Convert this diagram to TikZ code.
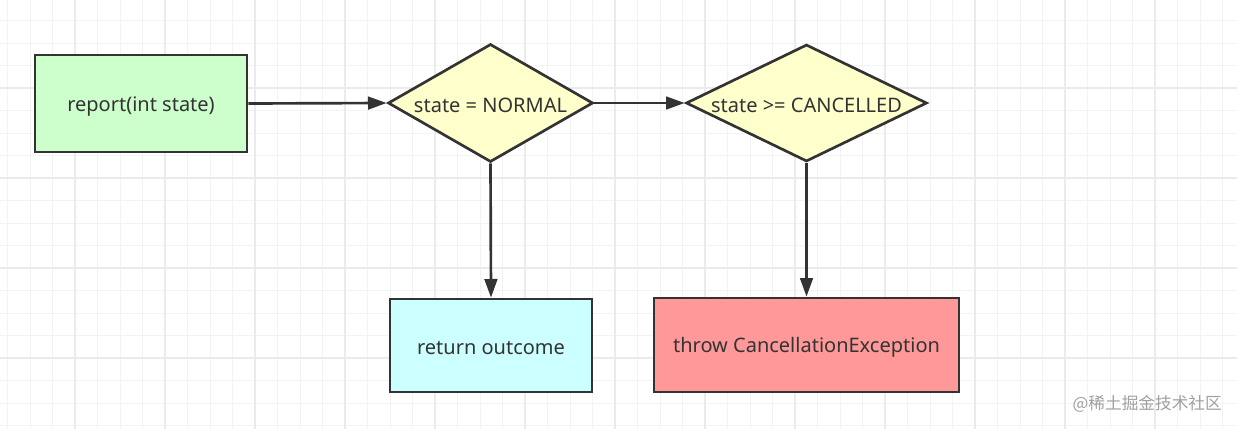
\documentclass[tikz,border=0pt]{standalone}
\usepackage{fontspec}
\setmainfont{Noto Sans}
\newfontfamily\cjk{Noto Sans CJK SC}
\usetikzlibrary{shapes.geometric,arrows.meta}
\definecolor{gridminor}{HTML}{F3F3F3}
\definecolor{gridmajor}{HTML}{EBEBEB}
\definecolor{edgecol}{HTML}{333333}
\definecolor{greenfill}{HTML}{CCFFCC}
\definecolor{yellowfill}{HTML}{FFFFCC}
\definecolor{cyanfill}{HTML}{CCFFFF}
\definecolor{redfill}{HTML}{FF9999}
\definecolor{wmark}{HTML}{A0A0A0}
\newcommand{\lowtext}[1]{\raisebox{-2pt}[\height][\depth]{#1}}
\tikzset{
  boxnode/.style={draw=edgecol, line width=2pt, inner sep=0pt, font=\fontsize{15}{17}\selectfont, text=edgecol},
  decision/.style={diamond, draw=edgecol, line width=2pt, inner sep=0pt, fill=yellowfill, font=\fontsize{15}{17}\selectfont, text=edgecol},
  flow/.style={draw=edgecol, line width=2pt, -{Triangle[length=14pt,width=9.5pt]}},
}
\begin{document}
\begin{tikzpicture}[x=0.75pt,y=-0.75pt]
\useasboundingbox (0,0) rectangle (1237,429);
\fill[white] (0,0) rectangle (1237,429);
% minor grid
\foreach \gx in {7.5,30,...,1237} \draw[gridminor, line width=0.75pt] (\gx,0) -- (\gx,429);
\foreach \gy in {20.5,43,...,429} \draw[gridminor, line width=0.75pt] (0,\gy) -- (1237,\gy);
% major grid
\foreach \gx in {75,165,...,1237} \draw[gridmajor, line width=0.9pt] (\gx,0) -- (\gx,429);
\foreach \gy in {88,178,...,429} \draw[gridmajor, line width=0.9pt] (0,\gy) -- (1237,\gy);

\node[boxnode, fill=greenfill, minimum width=212*0.75pt, minimum height=97*0.75pt] (report) at (141,103.5) {\lowtext{report(int state)}};
\node[decision, aspect=1.737, minimum width=205*0.75pt, minimum height=118*0.75pt] (normal) at (490.5,103) {\lowtext{state = NORMAL}};
\node[decision, aspect=2.06, minimum width=241*0.75pt, minimum height=117*0.75pt] (cancel) at (806.5,103) {\lowtext{state >= CANCELLED}};
\node[boxnode, fill=cyanfill, minimum width=202*0.75pt, minimum height=93*0.75pt] (outcome) at (491,345.5) {\lowtext{return outcome}};
\node[boxnode, fill=redfill, minimum width=305*0.75pt, minimum height=94*0.75pt] (throw) at (806.5,345) {\lowtext{throw CancellationException}};

\draw[flow] (report.east) -- (normal.west);
\draw[flow] (normal.east) -- (cancel.west);
\draw[flow] (normal.south) -- (outcome.north);
\draw[flow] (cancel.south) -- (throw.north);

\node[text=wmark, font=\cjk\fontsize{12.5}{14}\selectfont, anchor=east, inner sep=0pt] (wm) at (1222,404) {@稀土掘金技术社区};
\end{tikzpicture}
\end{document}
